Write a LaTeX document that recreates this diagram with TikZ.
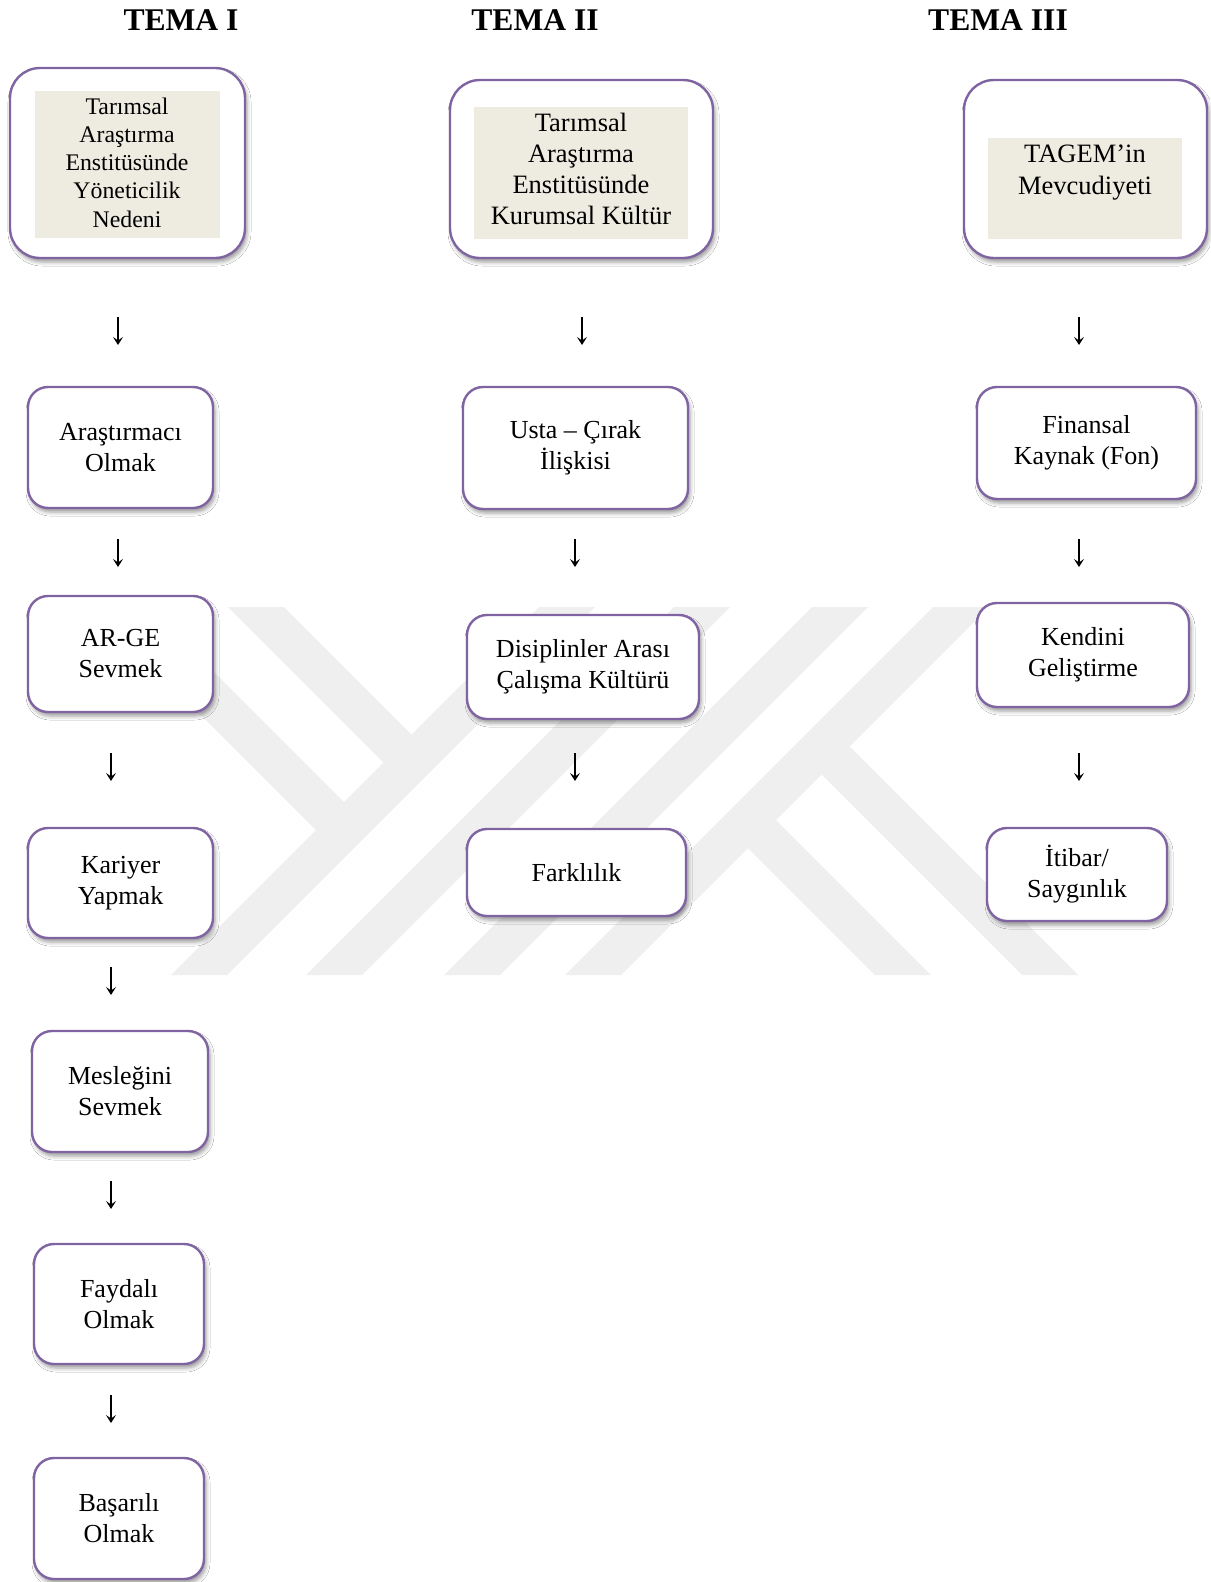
\documentclass[tikz,border=0pt]{standalone}
\usepackage{fontspec}
\setmainfont{Liberation Serif}
\usetikzlibrary{shadows.blur,arrows.meta}
\definecolor{boxpurple}{RGB}{128,100,162}
\definecolor{beige}{RGB}{238,236,225}
\definecolor{wm}{RGB}{239,239,239}
\begin{document}
\begin{tikzpicture}[x=1pt,y=-1pt,
  box/.style={draw=boxpurple, line width=2.4pt, fill=white, rounded corners=20pt,
    align=center, inner sep=0pt, font=\fontsize{26}{31}\selectfont,
    blur shadow={shadow xshift=2pt, shadow yshift=-4pt, shadow blur radius=4pt, shadow opacity=40}},
  bigbox/.style={box, rounded corners=30pt},
  innerbox/.style={fill=beige, inner sep=0pt, draw=none},
  txt/.style={align=center, inner sep=0pt, font=\fontsize{26.5}{31}\selectfont},
  downarrow/.style={line width=1.6pt, -{Stealth[length=8pt, width=10pt, inset=3.5pt]}},
  title/.style={font=\fontsize{31.6}{38}\selectfont\bfseries, inner sep=0pt}]
\useasboundingbox (0,0) rectangle (1210,1582);
\fill[white] (0,0) rectangle (1210,1582);

% watermark
\begin{scope}
\clip (0,607) rectangle (1210,975);
\fill[wm] (171,975) -- (227,975) -- (595,607) -- (539,607) -- cycle;
\fill[wm] (306,975) -- (362,975) -- (730,607) -- (674,607) -- cycle;
\fill[wm] (444,975) -- (500,975) -- (868,607) -- (812,607) -- cycle;
\fill[wm] (565,975) -- (621,975) -- (989,607) -- (933,607) -- cycle;
\fill[wm] (228,607) -- (284,607) -- (425.5,748.5) -- (397.5,776.5) -- cycle;
\fill[wm] (93,607) -- (149,607) -- (358,816) -- (330,844) -- cycle;
\fill[wm] (875,975) -- (931,975) -- (762,806) -- (734,834) -- cycle;
\fill[wm] (1022,975) -- (1078,975) -- (835.5,732.5) -- (807.5,760.5) -- cycle;
\end{scope}

% titles
\node[title] (t1) at (181,20) {TEMA I};
\node[title] (t2) at (535,20) {TEMA II};
\node[title] (t3) at (998,20) {TEMA III};

% top boxes
\node[bigbox, minimum width=235pt, minimum height=190pt] (a0) at (127.5,163) {};
\node[innerbox, minimum width=185pt, minimum height=147pt] (a0i) at (127.5,164.5) {};
\node[txt, font=\fontsize{23.8}{28.3}\selectfont] (a0t) at (127,162.5) {Tarımsal\\Araştırma\\Enstitüsünde\\Yöneticilik\\Nedeni};

\node[bigbox, minimum width=263pt, minimum height=178pt] (c0) at (581.5,169) {};
\node[innerbox, minimum width=214pt, minimum height=132pt] (c0i) at (581,173) {};
\node[txt] (c0t) at (581,168.5) {Tarımsal\\Araştırma\\Enstitüsünde\\Kurumsal Kültür};

\node[bigbox, minimum width=243pt, minimum height=178pt] (d0) at (1085.5,169) {};
\node[innerbox, minimum width=194pt, minimum height=101pt] (d0i) at (1085,188.5) {};
\node[txt, font=\fontsize{26.5}{32}\selectfont] (d0t) at (1085,172.5) {TAGEM’in\\Mevcudiyeti};

% column 1
\node[box, minimum width=185pt, minimum height=121pt] (a1) at (120.5,447.5) {Araştırmacı\\Olmak};
\node[box, minimum width=185pt, minimum height=116pt] (a2) at (120.5,654) {AR-GE\\Sevmek};
\node[box, minimum width=185pt, minimum height=110pt] (a3) at (120.5,883) {Kariyer\\Yapmak};
\node[box, minimum width=176pt, minimum height=121pt] (a4) at (120,1091.5) {Mesleğini\\Sevmek};
\node[box, minimum width=170pt, minimum height=120pt] (a5) at (119,1304) {Faydalı\\Olmak};
\node[box, minimum width=170pt, minimum height=121pt] (a6) at (119,1518.5) {Başarılı\\Olmak};

% column 2
\node[box, minimum width=225pt, minimum height=122pt] (c1) at (575.5,448) {Usta – Çırak\\İlişkisi};
\node[box, minimum width=232pt, minimum height=104pt] (c2) at (583,667) {Disiplinler Arası\\Çalışma Kültürü};
\node[box, minimum width=219pt, minimum height=87pt] (c3) at (576.5,872.5) {Farklılık};

% column 3
\node[box, minimum width=219pt, minimum height=112pt] (d1) at (1086.5,443) {Finansal\\Kaynak (Fon)};
\node[box, minimum width=212pt, minimum height=104pt] (d2) at (1083,655) {Kendini\\Geliştirme};
\node[box, minimum width=180pt, minimum height=93pt] (d3) at (1077,874.5) {İtibar/\\Saygınlık};

% arrows
\foreach \n/\x/\y in {ar1/118/331, ar2/118/553, ar3/111/767, ar4/111/981, ar5/111/1195, ar6/111/1409,
                      cr1/582/331, cr2/575/553, cr3/575/767,
                      dr1/1079/331, dr2/1079/553, dr3/1079/767}{
  \coordinate (\n s) at (\x,\y-14);
  \coordinate (\n e) at (\x,\y+14);
  \draw[downarrow] (\n s) -- (\n e);
}
\end{tikzpicture}
\end{document}
